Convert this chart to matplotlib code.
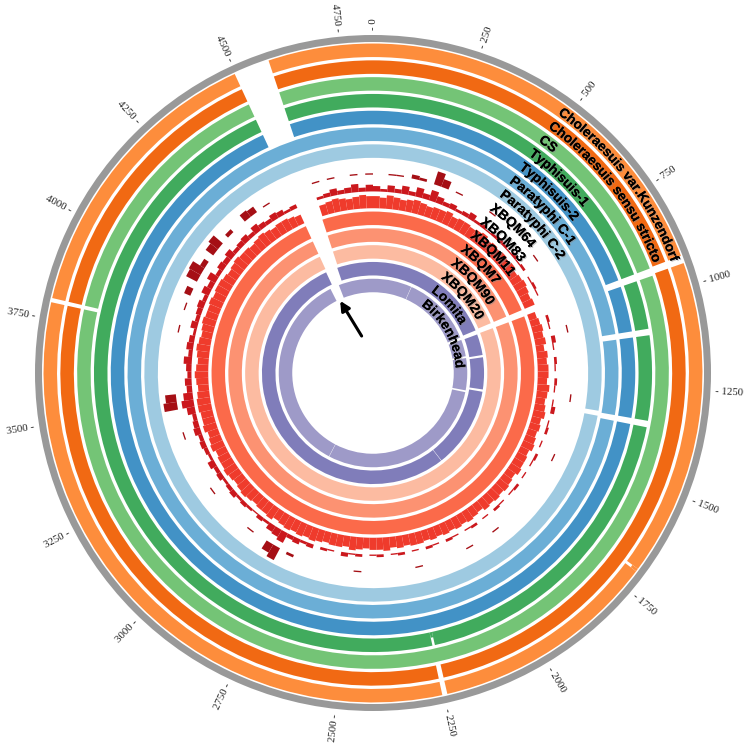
import numpy as np
import matplotlib
matplotlib.use("Agg")
import matplotlib.pyplot as plt
from matplotlib import patheffects as pe
from matplotlib.font_manager import FontProperties, findfont, get_font

# ---------------- data ----------------
GENOME_KB = 4830
BIN_KB = 30

tick_positions_kb = [0, 250, 500, 750, 1000, 1250, 1500, 1750, 2000, 2250,
                     2500, 2750, 3000, 3250, 3500, 3750, 4000, 4250, 4500, 4750]
tick_labels = ["0", "-250", "-500", "-750", "-1000", "-1250", "-1500", "-1750",
               "-2000", "-2250", "2500", "2750", "3000", "3250", "3500", "3750",
               "4000", "4250", "4500", "4750"]

ring_names = ["Choleraesuis var.Kunzendorf", "Choleraesuis sensu stricto", "CS",
              "Typhisuis-1", "Typhisuis-2", "Paratyphi C-1", "Paratyphi C-2",
              "XBQM64", "XBQM83", "XBQM11", "XBQM7", "XBQM90", "XBQM20",
              "Lomita", "Birkenhead"]
ring_colors = ["#fd8d3c", "#f16913", "#74c476", "#41ab5d", "#4292c6", "#6baed6",
               "#9ecae1", "#a50f15", "#cb181d", "#ef3b2c", "#fb6a4a", "#fc9272",
               "#fcbba1", "#807dba", "#9e9ac8"]

# gaps (kb) in the near-complete rings
gaps = {
    "Choleraesuis var.Kunzendorf": [(928, 946), (2240, 2252), (3789, 3799), (4497, 4582)],
    "Choleraesuis sensu stricto": [(928, 946), (2240, 2252), (3789, 3799), (4497, 4582)],
    "CS": [(930, 950), (3789, 3799), (4497, 4582)],
    "Typhisuis-1": [(930, 950), (1085, 1103), (1340, 1358), (4497, 4582)],
    "Typhisuis-2": [(930, 950), (1085, 1103), (1340, 1358), (4497, 4582)],
    "Paratyphi C-1": [(1085, 1103), (1340, 1358)],
    "Paratyphi C-2": [(1335, 1352)],
    "XBQM7": [(900, 932), (4500, 4585)],
    "XBQM90": [(900, 932), (4500, 4585)],
    "XBQM20": [(900, 932), (4500, 4585)],
    "Lomita": [(905, 935), (1082, 1098), (1322, 1338), (1904, 1907), (4495, 4578)],
    "Birkenhead": [(321, 324), (910, 932), (1070, 1085), (1350, 1365),
                   (2786, 2789), (4470, 4545)],
}
# partial notches: (ring, start kb, end kb, kept fraction from, kept fraction to)
notches = [("Choleraesuis var.Kunzendorf", 1697, 1704, 0.5, 1.0),
           ("Typhisuis-1", 2243, 2250, 0.0, 0.4)]

# histogram rings, value per 30 kb bin in tenths of the band height
xbqm64_vals = [0, 0, 1, 1, 0, 3, 2, 0, 10, 6,
               0, 1, 0, 0, 0, 0, 1, 0, 0, 0,
               0, 0, 0, 0, 1, 0, 0, 0, 0, 0,
               0, 0, 0, 0, 1, 0, 0, 0, 0, 0,
               0, 0, 0, 1, 0, 0, 0, 0, 0, 0,
               0, 1, 0, 0, 0, 0, 0, 0, 0, 0,
               0, 0, 0, 1, 0, 0, 0, 1, 0, 0,
               0, 0, 0, 0, 1, 0, 0, 0, 0, 0,
               0, 0, 1, 0, 0, 0, 0, 0, 0, 0,
               0, 2, 0, 10, 7, 0, 0, 1, 0, 0,
               0, 0, 0, 0, 1, 0, 0, 0, 0, 0,
               0, 0, 1, 0, 0, 0, 10, 8, 0, 0,
               0, 0, 0, 0, 0, 0, 1, 0, 0, 1,
               0, 5, 0, 9, 10, 4, 0, 7, 9, 0,
               3, 0, 0, 6, 5, 0, 1, 0, 0, 0,
               0, 0, 0, 1, 0, 1, 0, 0, 1, 0,
               1]
xbqm83_vals = [4, 2, 5, 3, 6, 3, 7, 4, 8, 5,
               3, 4, 2, 3, 5, 2, 3, 1, 2, 3,
               2, 1, 3, 1, 2, 0, 1, 2, 1, 0,
               0, 0, 2, 1, 0, 3, 1, 0, 2, 1,
               0, 2, 1, 0, 1, 3, 0, 1, 2, 0,
               1, 0, 2, 1, 0, 1, 0, 2, 1, 0,
               1, 2, 0, 1, 0, 2, 1, 0, 1, 2,
               0, 1, 2, 0, 1, 0, 2, 1, 0, 2,
               1, 0, 2, 1, 3, 0, 1, 2, 0, 3,
               2, 4, 3, 8, 6, 5, 2, 3, 1, 2,
               3, 2, 4, 3, 2, 4, 3, 5, 2, 3,
               4, 3, 5, 4, 3, 6, 9, 7, 4, 5,
               3, 4, 6, 3, 5, 4, 2, 5, 3, 4,
               5, 3, 6, 4, 7, 3, 5, 4, 6, 3,
               4, 5, 3, 6, 4, 3, 5, 4, 2, 3,
               0, 0, 0, 2, 3, 5, 3, 4, 6, 3,
               5]
xbqm11_vals = [9, 8, 10, 9, 8, 9, 10, 9, 8, 9,
               9, 10, 8, 9, 9, 8, 9, 10, 8, 9,
               8, 9, 8, 9, 7, 8, 9, 8, 7, 8,
               0, 6, 7, 8, 7, 8, 6, 8, 7, 8,
               8, 7, 9, 8, 7, 8, 9, 7, 8, 7,
               8, 9, 7, 8, 8, 9, 7, 8, 9, 8,
               9, 8, 9, 7, 8, 9, 8, 9, 8, 9,
               8, 9, 8, 9, 9, 8, 9, 8, 10, 9,
               9, 8, 9, 10, 8, 9, 9, 8, 9, 10,
               9, 10, 9, 10, 9, 8, 10, 9, 9, 8,
               9, 10, 9, 8, 9, 10, 9, 9, 8, 10,
               9, 8, 10, 9, 9, 10, 10, 9, 8, 9,
               10, 9, 8, 9, 10, 9, 8, 9, 10, 9,
               9, 10, 9, 10, 10, 9, 8, 9, 10, 9,
               9, 8, 9, 10, 9, 8, 9, 9, 8, 7,
               0, 0, 0, 8, 9, 10, 9, 8, 9, 10,
               9]
histograms = {"XBQM64": xbqm64_vals, "XBQM83": xbqm83_vals, "XBQM11": xbqm11_vals}

# ---------------- layout ----------------
RING15_MID = 87.5
PITCH = 16.8
THICK = 13.5
LABEL_START_DEG = 35.5
LABEL_PT = 9.8
GRAY_IN, GRAY_OUT = 331, 338

def kb2th(kb):
    return np.asarray(kb, dtype=float) / GENOME_KB * 2 * np.pi

fig = plt.figure(figsize=(7.46, 7.46), dpi=100)
ax = fig.add_axes([0, 0, 1, 1], projection="polar")
ax.set_theta_zero_location("N")
ax.set_theta_direction(-1)
ax.set_ylim(0, 373)
ax.axis("off")

# outer gray ring
ax.bar(0, GRAY_OUT - GRAY_IN, width=2 * np.pi, bottom=GRAY_IN, align="edge",
       color="#999999", edgecolor="none", linewidth=0)

def complement(gl):
    segs, cur = [], 0.0
    for a, b in sorted(gl):
        if a > cur:
            segs.append((cur, a))
        cur = max(cur, b)
    if cur < GENOME_KB:
        segs.append((cur, GENOME_KB))
    return segs

n = len(ring_names)
for i, (name, col) in enumerate(zip(ring_names, ring_colors)):
    mid = RING15_MID + PITCH * (n - 1 - i)
    inner = mid - THICK / 2
    if name in histograms:
        vals = np.array(histograms[name], dtype=float) / 10.0
        starts = np.arange(len(vals)) * BIN_KB
        widths = np.minimum(starts + BIN_KB, GENOME_KB) - starts
        m = vals > 0
        ax.bar(kb2th(starts[m]), vals[m] * THICK, width=kb2th(widths[m]),
               bottom=inner, align="edge", color=col, edgecolor="none", linewidth=0)
    else:
        gl = list(gaps.get(name, []))
        nl = [nt for nt in notches if nt[0] == name]
        for nt in nl:
            gl.append((nt[1], nt[2]))
        for a, b in complement(gl):
            ax.bar(kb2th(a), THICK, width=kb2th(b - a), bottom=inner, align="edge",
                   color=col, edgecolor="none", linewidth=0)
        for _, a, b, f0, f1 in nl:
            ax.bar(kb2th(a), THICK * (f1 - f0), width=kb2th(b - a),
                   bottom=inner + THICK * f0, align="edge", color=col,
                   edgecolor="none", linewidth=0)

# ---------------- curved labels ----------------
fp = FontProperties(family="Liberation Sans", weight="bold", size=LABEL_PT)
ft = get_font(findfont(fp))
ft.set_size(LABEL_PT, 100)

def advance(ch):
    g = ft.load_char(ord(ch))
    return g.linearHoriAdvance / 65536.0

shadow = [pe.withSimplePatchShadow(offset=(0.8, -0.8), shadow_rgbFace="#888888", alpha=0.5),
          pe.Normal()]
for i, name in enumerate(ring_names):
    mid = RING15_MID + PITCH * (n - 1 - i)
    rb = mid - 4.7
    s = 0.0
    th0 = np.deg2rad(LABEL_START_DEG)
    for ch in name:
        w = advance(ch)
        th = th0 + (s + w / 2) / rb
        s += w
        if ch == " ":
            continue
        ax.text(th, rb, ch, rotation=-np.rad2deg(th), rotation_mode="anchor",
                ha="center", va="baseline", fontproperties=fp, color="black",
                zorder=10, path_effects=shadow)

# ---------------- position ticks ----------------
tfp = FontProperties(family="Liberation Serif", size=7.8)
for kb, lab in zip(tick_positions_kb, tick_labels):
    th = float(kb2th(kb))
    deg = np.rad2deg(th)
    if deg <= 180:
        ax.text(th, 343, "- " + lab.lstrip("-"), rotation=90 - deg,
                rotation_mode="anchor", ha="left", va="center",
                fontproperties=tfp, color="#222222")
    else:
        ax.text(th, 343, lab + " -", rotation=270 - deg, rotation_mode="anchor",
                ha="right", va="center", fontproperties=tfp, color="#222222")

# ---------------- arrow ----------------
ax.annotate("", xy=(np.deg2rad(-24.7), 82), xytext=(np.deg2rad(-16), 36),
            arrowprops=dict(arrowstyle="-|>", color="black", lw=2.2, mutation_scale=14))

fig.savefig("out.png", dpi=100)
